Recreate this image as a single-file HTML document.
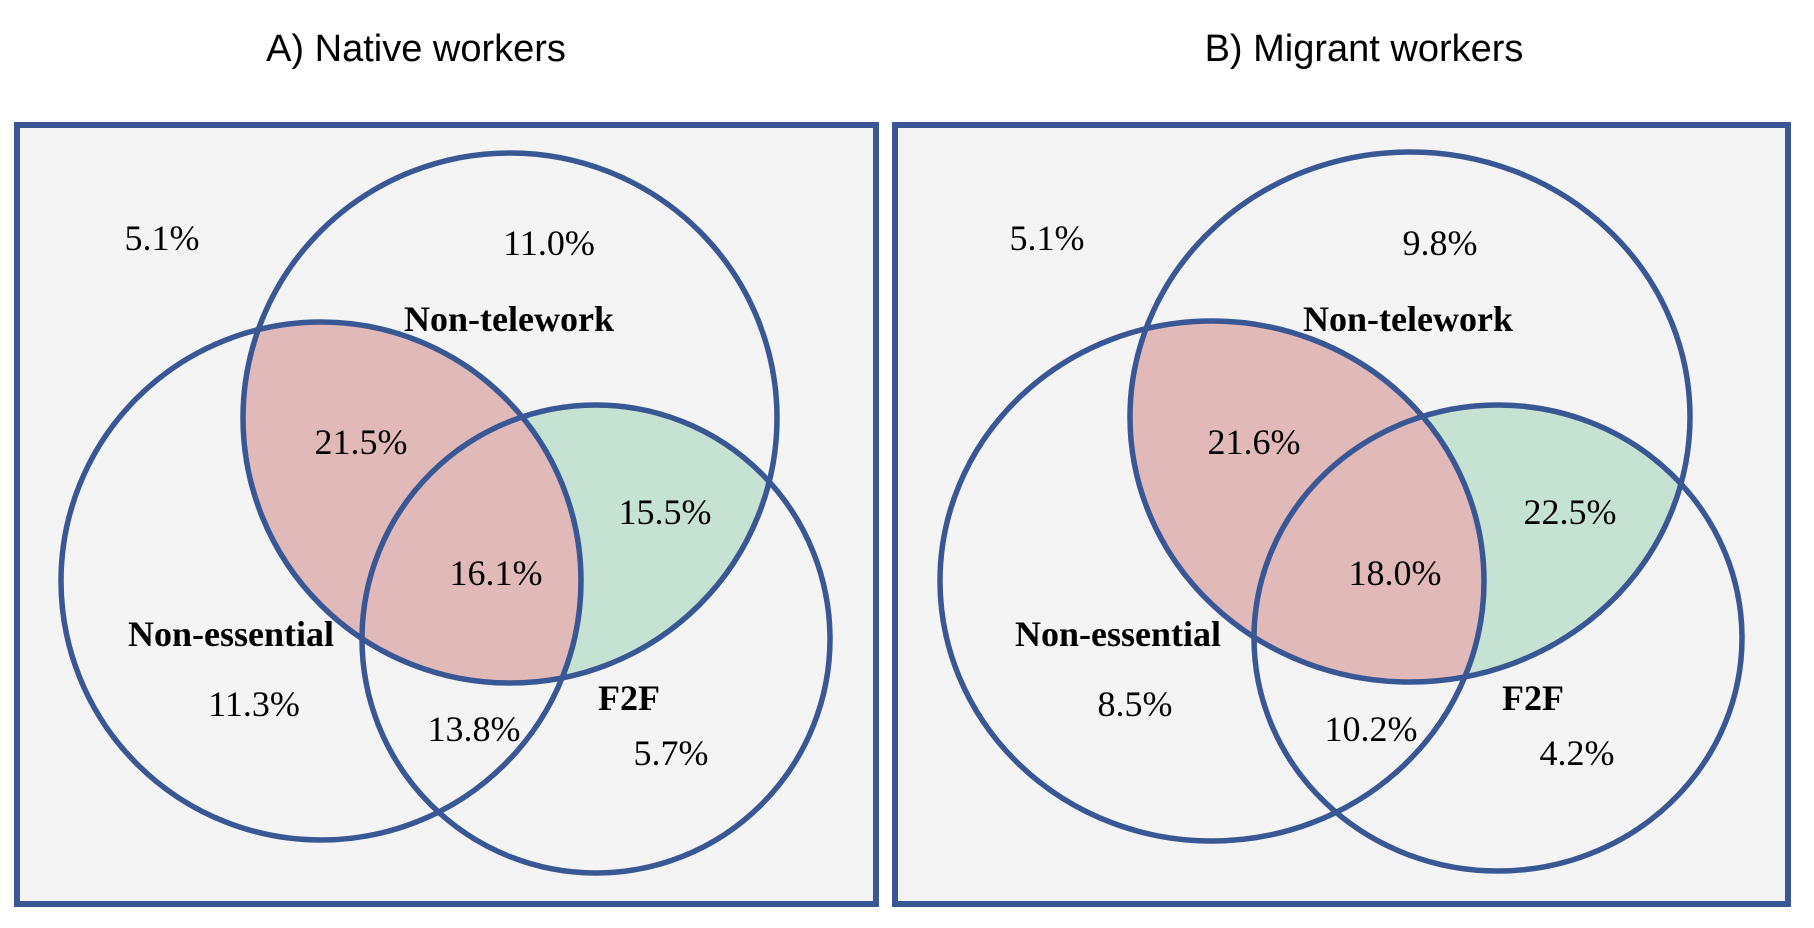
<!DOCTYPE html>
<html><head><meta charset="utf-8"><style>
html,body{margin:0;padding:0;background:#fff;}
svg{display:block;}
.t{font-family:"Liberation Sans",sans-serif;font-size:38px;fill:#000;}
.n{font-family:"Liberation Serif",serif;font-size:36px;fill:#000;}
.b{font-family:"Liberation Serif",serif;font-size:36px;font-weight:bold;fill:#000;}
</style></head><body>
<svg width="1814" height="928" viewBox="0 0 1814 928" xmlns="http://www.w3.org/2000/svg">
<defs>
<clipPath id="ca"><ellipse cx="510" cy="418" rx="267" ry="265"/></clipPath>
<clipPath id="cb"><ellipse cx="1410" cy="417" rx="280" ry="265"/></clipPath>
</defs>
<text class="t" x="416" y="61" text-anchor="middle">A) Native workers</text>
<text class="t" x="1364" y="61" text-anchor="middle">B) Migrant workers</text>

<!-- Panel A -->
<rect x="17" y="125" width="859" height="779" fill="#f4f4f4" stroke="#3a5795" stroke-width="6"/>
<g clip-path="url(#ca)">
<ellipse cx="596" cy="639" rx="234" ry="234" fill="#c5e2d2"/>
<ellipse cx="321" cy="581" rx="260" ry="259" fill="#e1b9b8"/>
</g>
<g fill="none" stroke="#3a5795" stroke-width="5.5">
<ellipse cx="510" cy="418" rx="267" ry="265"/>
<ellipse cx="321" cy="581" rx="260" ry="259"/>
<ellipse cx="596" cy="639" rx="234" ry="234"/>
</g>
<g text-anchor="middle" dominant-baseline="central">
<text class="n" x="162" y="238">5.1%</text>
<text class="n" x="549" y="243">11.0%</text>
<text class="b" x="509" y="319">Non-telework</text>
<text class="n" x="361" y="442">21.5%</text>
<text class="n" x="665" y="512">15.5%</text>
<text class="n" x="496" y="573">16.1%</text>
<text class="b" x="231" y="634">Non-essential</text>
<text class="n" x="254" y="704">11.3%</text>
<text class="n" x="474" y="729">13.8%</text>
<text class="b" x="629" y="698">F2F</text>
<text class="n" x="671" y="753">5.7%</text>
</g>

<!-- Panel B -->
<rect x="895" y="125" width="893" height="779" fill="#f4f4f4" stroke="#3a5795" stroke-width="6"/>
<g clip-path="url(#cb)">
<ellipse cx="1498" cy="638" rx="244" ry="233" fill="#c5e2d2"/>
<ellipse cx="1212" cy="581" rx="272" ry="260" fill="#e1b9b8"/>
</g>
<g fill="none" stroke="#3a5795" stroke-width="5.5">
<ellipse cx="1410" cy="417" rx="280" ry="265"/>
<ellipse cx="1212" cy="581" rx="272" ry="260"/>
<ellipse cx="1498" cy="638" rx="244" ry="233"/>
</g>
<g text-anchor="middle" dominant-baseline="central">
<text class="n" x="1047" y="238">5.1%</text>
<text class="n" x="1440" y="243">9.8%</text>
<text class="b" x="1408" y="319">Non-telework</text>
<text class="n" x="1254" y="442">21.6%</text>
<text class="n" x="1570" y="512">22.5%</text>
<text class="n" x="1395" y="573">18.0%</text>
<text class="b" x="1118" y="634">Non-essential</text>
<text class="n" x="1135" y="704">8.5%</text>
<text class="n" x="1371" y="729">10.2%</text>
<text class="b" x="1533" y="698">F2F</text>
<text class="n" x="1577" y="753">4.2%</text>
</g>
</svg>
</body></html>
